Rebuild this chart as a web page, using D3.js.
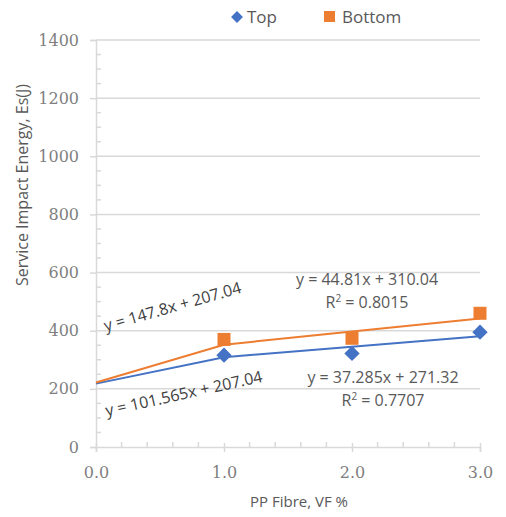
<!DOCTYPE html>
<html>
<head>
<meta charset="utf-8">
<script src="https://cdn.jsdelivr.net/npm/d3@7"></script>
<style>
  html, body { margin: 0; padding: 0; background: #ffffff; }
  svg { display: block; }
</style>
</head>
<body>
<svg id="chart" width="506" height="517"></svg>
<script>
// ---- data ----
const markerX = [1, 2, 3];
const topValues = [316, 322, 395];
const bottomValues = [370, 374, 460];
const lineX = [0, 1, 2, 3];
const topLine = [218, 309, 345, 381];
const bottomLine = [222, 352, 397, 442];
const seriesNames = ["Top", "Bottom"];
const xTicks = [0, 1, 2, 3];
const yTicks = [0, 200, 400, 600, 800, 1000, 1200, 1400];
const xTitle = "PP Fibre, VF %";
const yTitle = "Service Impact Energy, Es(J)";
const eqBottomLeft = "y = 147.8x + 207.04";
const eqTopLeft = "y = 101.565x + 207.04";
const eqBottomRight = "y = 44.81x + 310.04";
const r2BottomRight = "0.8015";
const eqTopRight = "y = 37.285x + 271.32";
const r2TopRight = "0.7707";

// ---- layout ----
const blue = "#4472C4", orange = "#ED7D31";
const axisGray = "#d9d9d9", textGray = "#595959", tickGray = "#7f7f7f";
const svg = d3.select("#chart");
const x = d3.scaleLinear().domain([0, 3]).range([96, 480]);
const y = d3.scaleLinear().domain([0, 1400]).range([447, 40]);
const sans = "'Open Sans', 'Liberation Sans', sans-serif";
const serif = "'DejaVu Serif', serif";

// gridlines
svg.append("g").selectAll("line").data(yTicks.filter(d => d > 0)).join("line")
  .attr("x1", x(0)).attr("x2", x(3))
  .attr("y1", d => y(d)).attr("y2", d => y(d))
  .attr("stroke", axisGray).attr("stroke-width", 1.5);

// y axis
const yAxis = d3.axisLeft(y).tickValues(yTicks).tickSize(6).tickFormat(d3.format("d"));
const gy = svg.append("g").attr("transform", `translate(${x(0)},0)`).call(yAxis);
gy.select(".domain").attr("stroke", axisGray).attr("stroke-width", 1.5);
gy.selectAll(".tick line").attr("stroke", axisGray).attr("stroke-width", 1.5);
gy.selectAll(".tick text").attr("x", -17).attr("fill", tickGray)
  .style("font-family", serif).style("font-size", "16px");
// y minor ticks (inside)
const yMinor = d3.range(0, 1401, 50).filter(d => d % 200 !== 0);
svg.append("g").selectAll("line").data(yMinor).join("line")
  .attr("x1", x(0)).attr("x2", x(0) + 5)
  .attr("y1", d => y(d)).attr("y2", d => y(d))
  .attr("stroke", axisGray).attr("stroke-width", 1.5);

// x axis
const xAxis = d3.axisBottom(x).tickValues(xTicks).tickSize(5).tickFormat(d3.format(".1f"));
const gx = svg.append("g").attr("transform", `translate(0,${y(0)})`).call(xAxis);
gx.select(".domain").attr("stroke", axisGray).attr("stroke-width", 1.5);
gx.selectAll(".tick line").attr("stroke", axisGray).attr("stroke-width", 1.5).attr("y1", -4);
gx.selectAll(".tick text").attr("y", 20).attr("fill", tickGray)
  .style("font-family", serif).style("font-size", "16px");
const xMinor = d3.range(0, 3.001, 0.2).filter(d => Math.abs(d - Math.round(d)) > 1e-6);
svg.append("g").selectAll("line").data(xMinor).join("line")
  .attr("x1", d => x(d)).attr("x2", d => x(d))
  .attr("y1", y(0)).attr("y2", y(0) - 5)
  .attr("stroke", axisGray).attr("stroke-width", 1.5);

// axis titles
svg.append("text").attr("x", 299).attr("y", 507).attr("text-anchor", "middle")
  .attr("fill", textGray).style("font-family", sans).style("font-size", "15px").text(xTitle);
svg.append("text").attr("transform", "translate(28,185) rotate(-90)").attr("text-anchor", "middle")
  .attr("fill", textGray).style("font-family", sans).style("font-size", "16px").text(yTitle);

// lines
const line = d3.line().x(d => x(d[0])).y(d => y(d[1]));
svg.append("path").datum(lineX.map((d, i) => [d, topLine[i]]))
  .attr("d", line).attr("fill", "none").attr("stroke", blue).attr("stroke-width", 2);
svg.append("path").datum(lineX.map((d, i) => [d, bottomLine[i]]))
  .attr("d", line).attr("fill", "none").attr("stroke", orange).attr("stroke-width", 2);

// markers
svg.append("g").selectAll("path").data(markerX.map((d, i) => [d, topValues[i]])).join("path")
  .attr("transform", d => `translate(${x(d[0])},${y(d[1])})`)
  .attr("d", d3.symbol().type(d3.symbolDiamond2).size(150))
  .attr("fill", blue);
svg.append("g").selectAll("rect").data(markerX.map((d, i) => [d, bottomValues[i]])).join("rect")
  .attr("x", d => x(d[0]) - 6.5).attr("y", d => y(d[1]) - 6.5)
  .attr("width", 13).attr("height", 13).attr("fill", orange);

// equations
svg.append("text").attr("transform", "translate(174,312) rotate(-16)").attr("text-anchor", "middle")
  .attr("fill", "#404040").style("font-family", sans).style("font-size", "16px").text(eqBottomLeft);
svg.append("text").attr("transform", "translate(185,399) rotate(-12.5)").attr("text-anchor", "middle")
  .attr("fill", "#404040").style("font-family", sans).style("font-size", "16px").text(eqTopLeft);

function eq(cx, cy, eqText, r2) {
  svg.append("text").attr("x", cx).attr("y", cy).attr("text-anchor", "middle")
    .attr("fill", textGray).style("font-family", sans).style("font-size", "16px").text(eqText);
  const t = svg.append("text").attr("x", cx).attr("y", cy + 23).attr("text-anchor", "middle")
    .attr("fill", textGray).style("font-family", sans).style("font-size", "16px");
  t.append("tspan").text("R");
  t.append("tspan").attr("dy", -6).style("font-size", "10px").text("2");
  t.append("tspan").attr("dy", 6).text(" = " + r2);
}
eq(367, 285, eqBottomRight, r2BottomRight);
eq(383, 383, eqTopRight, r2TopRight);

// legend
const lg = svg.append("g");
lg.append("path").attr("transform", "translate(237,17)")
  .attr("d", d3.symbol().type(d3.symbolDiamond2).size(90)).attr("fill", blue);
lg.append("text").attr("x", 247).attr("y", 23).attr("fill", textGray)
  .style("font-family", sans).style("font-size", "17px").text(seriesNames[0]);
lg.append("rect").attr("x", 324).attr("y", 11).attr("width", 11).attr("height", 11).attr("fill", orange);
lg.append("text").attr("x", 342).attr("y", 23).attr("fill", textGray)
  .style("font-family", sans).style("font-size", "17px").text(seriesNames[1]);
</script>
</body>
</html>
